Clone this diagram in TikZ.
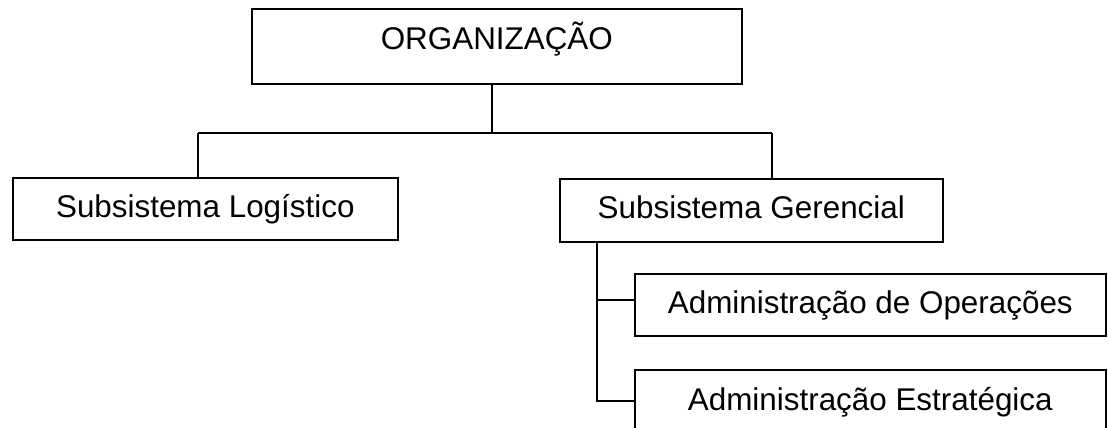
\documentclass[tikz,border=0pt]{standalone}
\usepackage{fontspec}
\setmainfont{Liberation Sans}

\begin{document}
\begin{tikzpicture}
[
	box/.style={draw,line width=0.8pt,anchor=north west,inner xsep=0pt,inner ysep=0pt,text height=20pt,text depth=11pt,font=\fontsize{15.7}{19}\selectfont},
	link/.style={line width=0.8pt},
	x=0.5pt,
	y=-0.5pt
]

	\useasboundingbox (0,0) rectangle (1108,428);

	\node[box,minimum width=245pt,text height=20.5pt,text depth=17pt] at (251,8) (org) {ORGANIZAÇÃO};

	\node[box,minimum width=192.5pt] at (12,177) (log) {Subsistema Logístico};
	\node[box,minimum width=191.5pt,text depth=11.5pt] at (559,178) (ger) {Subsistema Gerencial};

	\node[box,minimum width=235.5pt] at (634,273) (op) {Administração de Operações};
	\node[box,minimum width=235.5pt,text height=20.5pt,text depth=10.5pt] at (634,369) (est) {Administração Estratégica};

	% upper branching
	\coordinate (busL) at (198,133);
	\coordinate (busR) at (772,133);
	\draw[link] (busL) -- (busR);
	\draw[link] ([xshift=-2.5pt]org.south) -- ([xshift=-2.5pt]org.south |- busL);
	\draw[link] (busL) -- (busL |- log.north);
	\draw[link] (busR) -- (busR |- ger.north);

	% lower branching
	\coordinate (trunk) at (597,241);
	\draw[link] (trunk) |- ([yshift=2.5pt]op.west);
	\draw[link] (trunk) |- (est.west);

\end{tikzpicture}
\end{document}
